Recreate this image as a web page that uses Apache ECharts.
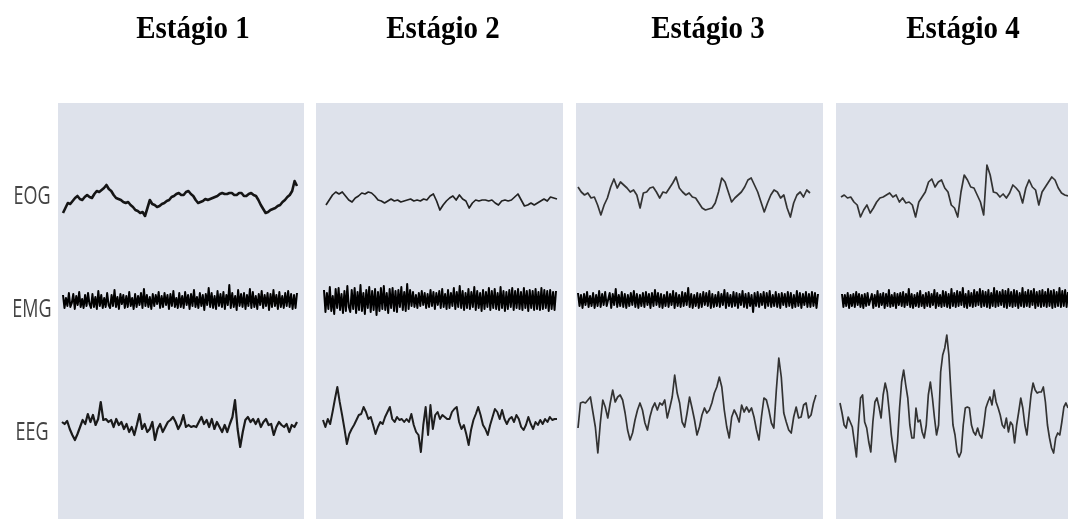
<!DOCTYPE html>
<html>
<head>
<meta charset="utf-8">
<script src="https://cdn.jsdelivr.net/npm/echarts@6/dist/echarts.min.js"></script>
<style>
html,body{margin:0;padding:0;background:#fff;}
#chart{width:1068px;height:519px;}
</style>
</head>
<body>
<div id="chart"></div>
<script>
const stages = ['Estágio 1', 'Estágio 2', 'Estágio 3', 'Estágio 4'];
const channels = ['EOG', 'EMG', 'EEG'];

// EOG traces (arbitrary units, up = positive)
const eog1 = [-13,-8,-3,-4,-1,2,4,1,0,3,5,3,2,6,9,8,10,12,15,11,9,5,2,1,0,-2,-3,-2,-5,-7,-10,-11,-13,-12,-16,-8,0,-4,-5,-7,-6,-4,-3,-1,0,3,4,6,7,5,5,8,9,6,4,0,-3,-2,-1,1,0,1,2,3,4,6,7,6,6,7,7,5,5,7,7,4,4,6,7,5,4,0,-5,-9,-13,-12,-10,-9,-8,-6,-5,-2,0,3,5,9,19,14];
const eog2 = [-5,0,5,8,6,8,4,0,-2,2,4,7,6,8,7,4,0,-1,-3,-1,1,-1,0,-2,-1,0,1,-1,0,-1,1,0,4,6,-1,-10,-5,-1,2,4,0,5,1,-1,-8,-3,0,-1,0,0,-1,0,-3,-5,-1,0,-1,0,3,6,0,-6,-5,-3,-5,-3,-1,1,-1,3,2,1];
const eog3 = [8,3,0,2,-3,-2,-10,-20,-10,-3,8,16,7,13,10,7,3,5,0,-13,2,3,7,8,3,-3,3,2,7,12,18,7,3,0,2,-2,-3,-8,-13,-15,-14,-13,-8,3,17,13,3,-7,-3,0,3,8,15,17,10,3,-7,-17,-8,0,5,3,-3,0,-13,-22,-8,0,3,-2,5,2];
const eog4 = [-2,0,-3,-2,-7,-10,-22,-15,-10,-18,-13,-7,-3,-2,0,2,-2,0,-7,-3,-8,-7,-10,-22,-7,-2,3,13,16,8,13,15,7,3,-10,-13,-22,3,20,15,8,7,0,-7,-20,30,20,3,2,-2,1,-3,2,10,7,3,-8,7,15,8,5,-10,3,8,13,18,15,7,2,0,-1];

// EMG traces
const emg1 = [6,-7,3,-5,8,-6,-2,7,-8,5,-4,9,-6,2,-7,6,-5,8,-3,-7,
  7,-6,4,-8,10,-5,6,-7,3,-6,8,-4,-7,6,-5,11,-6,4,-8,7,
  -3,6,-7,5,-6,9,-5,3,-8,7,-6,5,-4,8,-7,12,-5,6,-6,4,
  -8,7,-5,6,-3,9,-7,5,-6,8,-4,6,-8,7,-5,10,-6,3,-7,8,
  -6,5,-7,9,-4,6,-8,7,-5,11,-6,4,-7,8,-5,6,-9,7,-4,13,
  -6,8,-7,5,-8,10,-5,7,-6,9,-8,6,-4,16,-7,8,-6,5,-9,11,
  -5,7,-6,8,-8,6,-5,12,-7,9,-6,5,-8,7,-4,10,-7,6,-5,8,
  -9,7,-6,11,-5,6,-8,9,-6,5,-7,8,-5,10,-6,7,-8,6,-7,8];
const emg2 = [10,-12,7,-9,13,-11,4,-14,11,-8,12,-10,6,-13,9,-11,14,-7,-12,10,
  -9,12,-13,8,-10,15,-11,7,-14,10,-8,13,-12,9,-10,11,-15,8,-11,12,
  -9,14,-10,7,-13,11,-8,12,-11,9,-12,10,-7,13,-10,8,-11,16,-9,10,
  -6,8,-7,5,-8,7,-6,9,-5,7,-8,6,-7,10,-6,8,-9,7,-5,9,
  -8,11,-7,6,-9,10,-8,7,-6,12,-9,8,-7,14,-8,9,-10,7,-8,11,
  -9,8,-7,13,-10,9,-8,7,-11,10,-9,8,-7,12,-10,9,-8,11,-9,7,
  -10,13,-8,9,-11,8,-9,10,-7,12,-10,9,-8,11,-9,8,-10,12,-8,9,
  -11,10,-8,9,-10,11,-9,8,-10,12,-9,10,-8,9,-11,10,-9,8,-10,9];
const emg3 = [7,-6,5,-8,6,-5,8,-7,4,-6,7,-8,5,-6,9,-7,6,-5,8,-6,
  -4,7,-8,6,-5,11,-7,5,-6,8,-7,6,-8,5,-6,7,-5,9,-7,6,
  -8,5,-6,7,-7,8,-5,6,-8,7,-6,10,-5,7,-7,6,-8,5,-6,8,
  -7,6,-5,9,-8,7,-6,5,-7,8,-6,7,-5,12,-7,6,-8,5,-6,7,
  -8,6,-7,8,-5,7,-6,9,-8,6,-7,5,-6,8,-7,6,-5,10,-8,7,
  -6,5,-7,8,-6,7,-8,6,-5,9,-7,6,-8,7,-6,5,-12,7,-6,8,
  -7,6,-5,8,-8,7,-6,9,-7,5,-6,8,-7,6,-8,7,-5,6,-7,8,
  -6,7,-8,5,-7,9,-6,7,-8,6,-5,8,-7,6,-7,8,-6,7,-8,6];
const emg4 = [6,-7,5,-6,7,-8,5,-6,6,-7,8,-5,6,-7,5,-8,6,-6,7,-5,
  -7,6,-8,5,-6,9,-7,6,-5,7,-8,6,-6,10,-7,5,-6,7,-8,6,
  -5,7,-6,8,-7,6,-5,11,-7,6,-8,5,-6,7,-7,9,-6,5,-8,7,
  -6,8,-7,6,-5,10,-8,7,-6,5,-7,9,-6,8,-7,6,-8,11,-6,7,
  -7,9,-6,8,-5,12,-7,6,-8,9,-6,7,-7,10,-6,8,-5,11,-7,9,
  -6,8,-7,10,-8,7,-6,12,-7,9,-6,8,-5,10,-7,9,-8,11,-6,8,
  -7,10,-6,9,-8,7,-6,12,-7,8,-6,10,-7,9,-5,11,-8,8,-6,9,
  -7,10,-6,8,-7,11,-6,9,-8,10,-7,8,-6,12,-7,9,-6,10,-7,8];

// EEG traces
const eeg1 = [5,3,6,-2,-8,-13,-7,0,7,3,13,5,12,2,8,25,7,8,5,7,0,8,2,5,-2,3,-5,0,-8,2,13,-2,3,-5,-2,5,-13,-2,3,-5,0,5,7,10,5,-2,3,12,0,2,0,1,0,5,10,3,7,0,8,-2,5,0,-5,2,-5,3,10,27,-2,-20,-5,7,10,5,8,3,8,0,5,8,2,3,-8,0,5,2,0,3,-5,2,0,5];
const eeg2 = [2,-5,3,-2,10,23,35,20,7,-7,-22,-12,-7,-3,2,7,8,15,10,3,5,-3,-12,-5,0,-2,5,10,15,3,0,5,2,3,0,3,0,8,-3,-10,-13,-30,-3,15,-13,17,-7,7,10,3,7,5,3,3,10,13,15,0,-7,-3,-12,-23,-8,2,8,15,7,-3,-7,-13,-3,5,13,10,3,12,3,-2,3,5,0,7,3,-5,-8,-3,5,-2,-7,0,-3,2,-2,3,0,5,2,3,3];
const eeg3 = [-18,7,8,7,10,13,-2,-17,-43,-13,10,3,-8,7,20,8,13,15,10,-3,-20,-30,-23,-10,0,7,0,-13,-20,-7,2,7,0,7,5,10,-8,2,13,35,17,7,-12,-17,-3,13,2,-10,-25,-17,-5,2,-3,0,7,17,23,33,23,0,-17,-28,-7,0,-5,-12,5,-2,3,-2,2,-7,-20,-30,-7,12,10,0,-13,-18,20,52,33,-3,-12,-20,-23,-7,3,-8,-7,5,7,-8,-5,7,15];
const eeg4 = [12,2,-10,-13,-2,-7,-12,-27,-42,-10,17,20,-7,-13,-27,-37,-7,13,17,8,-3,20,32,23,3,-20,-35,-47,-27,7,33,45,30,17,-10,-23,-23,7,-7,-5,-17,-23,-10,20,33,17,-3,-20,-10,43,60,67,80,60,23,-10,-20,-37,-42,-37,-10,7,8,7,-10,-17,-20,-13,-20,-23,-10,7,13,18,10,25,13,7,0,-10,-13,-3,-17,-7,-10,-28,-10,3,17,7,-10,-20,0,20,32,25,22,23,23,28,13,-10,-23,-33,-38,-23,-18,-20,-7,8,12,7];

const traces = [
  [eog1, emg1, eeg1],
  [eog2, emg2, eeg2],
  [eog3, emg3, eeg3],
  [eog4, emg4, eeg4]
];

// ---- layout (pixels) ----
const panelBoxes = [[58, 246], [316, 247], [576, 247], [836, 232]];
const titleX = [193, 443, 708, 963];
const traceX = [
  [[63, 297], [63, 297], [62, 297]],
  [[326, 557], [324, 556], [323, 557]],
  [[578, 810], [578, 818], [578, 816]],
  [[841, 1068], [842, 1068], [840, 1068]]
];
const rowCenters = [
  [200, 301, 427],
  [200, 300, 422],
  [195, 300, 410],
  [195, 300, 415]
];
const labelY = [197, 310, 433];
const lineStyles = [
  [{w: 2.6, c: '#151515'}, {w: 2.0, c: '#000'}, {w: 2.2, c: '#1a1a1a'}],
  [{w: 1.7, c: '#222'}, {w: 2.0, c: '#000'}, {w: 2.0, c: '#1e1e1e'}],
  [{w: 1.7, c: '#333'}, {w: 2.0, c: '#000'}, {w: 1.7, c: '#333'}],
  [{w: 1.7, c: '#333'}, {w: 2.0, c: '#000'}, {w: 1.7, c: '#333'}]
];
const HALF = 90;

const grids = [], xAxes = [], yAxes = [], series = [];
traces.forEach((rows, p) => {
  rows.forEach((data, r) => {
    const gi = grids.length;
    const [x0, x1] = traceX[p][r];
    grids.push({left: x0, width: x1 - x0, top: rowCenters[p][r] - HALF, height: HALF * 2, containLabel: false});
    xAxes.push({gridIndex: gi, type: 'value', min: 0, max: data.length - 1, show: false});
    yAxes.push({gridIndex: gi, type: 'value', min: -HALF, max: HALF, show: false});
    series.push({
      type: 'line', xAxisIndex: gi, yAxisIndex: gi, z: 5,
      data: data.map((v, i) => [i, v]),
      showSymbol: false, symbol: 'none', smooth: false, clip: false, sampling: null,
      lineStyle: {width: lineStyles[p][r].w, color: lineStyles[p][r].c, join: 'round'},
      silent: true
    });
  });
});

const graphic = [];
panelBoxes.forEach(([x, w]) => {
  graphic.push({type: 'rect', z: 0, shape: {x: x, y: 103, width: w, height: 430}, style: {fill: '#dee2eb'}});
});
stages.forEach((s, i) => {
  graphic.push({type: 'text', z: 1, x: titleX[i], y: 30, scaleY: 1.1,
    style: {text: s, font: 'bold 29px "Liberation Serif", "Times New Roman", serif', fill: '#000',
      textAlign: 'center', textVerticalAlign: 'middle'}});
});
channels.forEach((c, i) => {
  graphic.push({type: 'text', z: 1, x: 32, y: labelY[i], scaleY: 1.4,
    style: {text: c, font: '18px "Open Sans", "Liberation Sans", sans-serif', fill: '#444',
      textAlign: 'center', textVerticalAlign: 'middle'}});
});

const chart = echarts.init(document.getElementById('chart'), null, {renderer: 'canvas'});
chart.setOption({
  animation: false,
  backgroundColor: '#ffffff',
  grid: grids,
  xAxis: xAxes,
  yAxis: yAxes,
  graphic: graphic,
  series: series
});
</script>
</body>
</html>
